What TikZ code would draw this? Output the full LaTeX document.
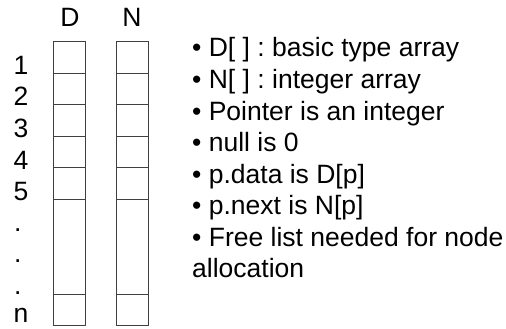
\documentclass[tikz,border=0pt]{standalone}
\usepackage{fontspec}
\setmainfont{Liberation Sans}
\frenchspacing
\begin{document}
\begin{tikzpicture}[x=1pt,y=-1pt,
  cell/.style={draw=black!75,line width=0.9pt},
  head/.style={font=\fontsize{26.5}{31}\selectfont,inner sep=0pt},
  idx/.style={font=\fontsize{26.5}{31}\selectfont,inner sep=0pt,anchor=base west},
  item/.style={font=\fontsize{26.5}{31}\selectfont,inner sep=0pt,anchor=base west}]
\useasboundingbox (0,0) rectangle (506,329);
% column headers
\node[head] (hD) at (70,17) {D};
\node[head] (hN) at (132,17) {N};
% the two arrays: five cells, a tall gap, and the last cell n
\foreach \c/\x in {D/53.5,N/116.5}{
  \foreach \t/\b [count=\i] in {41.5/73,73/104.5,104.5/136,136/167.5,167.5/199,199/294,294/325}{
    \draw[cell] (\x,\t) rectangle (\x+32,\b);
  }
}
% row indices
\node[idx] (r1) at (13.5,74.5) {1};
\node[idx] (r2) at (13.5,106) {2};
\node[idx] (r3) at (13.5,137.5) {3};
\node[idx] (r4) at (13.5,169) {4};
\node[idx] (r5) at (13.5,200.5) {5};
\node[idx] (d1) at (14,231.5) {.};
\node[idx] (d2) at (14,262.5) {.};
\node[idx] (d3) at (14,294.5) {.};
\node[idx] (rn) at (13.5,322) {n};
% notes
\node[item] (t1) at (192,57) {\textbullet\ D[ ] : basic type array};
\node[item] (t2) at (192,88.5) {\textbullet\ N[ ] : integer array};
\node[item] (t3) at (192,120) {\textbullet\ Pointer is an integer};
\node[item] (t4) at (192,151.5) {\textbullet\ null is 0};
\node[item] (t5) at (192,183) {\textbullet\ p.data is D[p]};
\node[item] (t6) at (192,214.5) {\textbullet\ p.next is N[p]};
\node[item] (t7) at (192,246) {\textbullet\ Free list needed for node};
\node[item] (t8) at (192,277.5) {allocation};
\end{tikzpicture}
\end{document}
